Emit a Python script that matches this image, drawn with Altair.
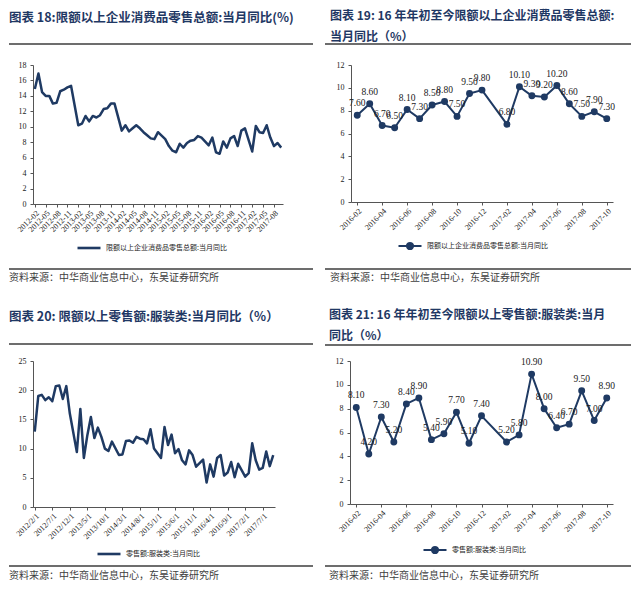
import altair as alt
import pandas as pd

NAVY = "#1f3a63"
TITLE_C = "#1f3864"
RULE_C = "#3c3c3c"
SERIF = "Liberation Serif"
CJK = "Noto Sans CJK SC"


def month_list(y0, m0, y1, m1):
    out = []
    y, m = y0, m0
    while (y, m) <= (y1, m1):
        out.append((y, m))
        m += 1
        if m > 12:
            m, y = 1, y + 1
    return out


# ---------------- data ----------------
# Chart 18: monthly 2012-02 .. 2017-10 (January not published -> None)
p18_cats = [f"{y}-{m:02d}" for y, m in month_list(2012, 2, 2017, 10)]
p18_vals = (
    [14.9, 16.9, 14.5, 14.0, 14.0, 13.0, 13.1, 14.6, 14.8, 15.1, 15.3]
    + [None, 10.2, 10.4, 11.4, 10.7, 11.4, 11.2, 11.5, 12.3, 12.4, 13.0, 13.0]
    + [None, 9.5, 10.2, 9.4, 9.8, 10.2, 9.8, 9.3, 8.9, 8.5, 8.4, 9.3]
    + [None, 8.4, 7.5, 6.9, 6.7, 7.8, 7.3, 7.9, 8.2, 8.3, 8.8, 8.6]
    + [None, 7.6, 8.6, 6.7, 6.5, 8.1, 7.3, 8.5, 8.8, 7.5, 9.5, 9.8]
    + [None, 6.8, 10.1, 9.3, 9.2, 10.2, 8.6, 7.5, 7.9, 7.3]
)
p18_ticks = p18_cats[0::3]
p18_name = "限额以上企业消费品零售总额:当月同比"

# Chart 19: 2016-02 .. 2017-10
p19_cats = [f"{y}-{m:02d}" for y, m in month_list(2016, 2, 2017, 10)]
p19_vals = [7.6, 8.6, 6.7, 6.5, 8.1, 7.3, 8.5, 8.8, 7.5, 9.5, 9.8,
            None, 6.8, 10.1, 9.3, 9.2, 10.2, 8.6, 7.5, 7.9, 7.3]
p19_ticks = p19_cats[0::2]
p19_name = "限额以上企业消费品零售总额:当月同比"

# Chart 20: monthly 2012/2/1 .. 2017/10/1
p20_cats = [f"{y}/{m}/1" for y, m in month_list(2012, 2, 2017, 10)]
p20_vals = (
    [12.9, 19.0, 19.2, 18.3, 18.8, 18.1, 20.7, 20.8, 18.5, 20.7, 16.0]
    + [None, 9.4, 16.8, 8.4, 12.3, 15.4, 11.8, 13.6, 12.0, 10.0, 9.6, 11.2]
    + [None, 8.9, 9.0, 11.3, 11.4, 11.0, 12.0, 11.7, 11.6, 10.9, 13.3, 10.0]
    + [None, 8.4, 13.7, 10.6, 12.4, 9.2, 9.9, 8.0, 7.3, 9.7, 8.9, 6.9]
    + [None, 8.1, 4.2, 7.3, 5.2, 8.4, 8.9, 5.4, 5.9, 7.7, 5.1, 7.4]
    + [None, 5.2, 5.8, 10.9, 8.0, 6.4, 6.7, 9.5, 7.0, 8.9]
)
p20_ticks = p20_cats[0::5]
p20_name = "零售额:服装类:当月同比"

# Chart 21: 2016-02 .. 2017-10
p21_cats = [f"{y}-{m:02d}" for y, m in month_list(2016, 2, 2017, 10)]
p21_vals = [8.1, 4.2, 7.3, 5.2, 8.4, 8.9, 5.4, 5.9, 7.7, 5.1, 7.4,
            None, 5.2, 5.8, 10.9, 8.0, 6.4, 6.7, 9.5, 7.0, 8.9]
p21_ticks = p21_cats[0::2]
p21_name = "零售额:服装类:当月同比"

titles = [
    "图表 18:限额以上企业消费品零售总额:当月同比(%)",
    "图表 19: 16 年年初至今限额以上企业消费品零售总额:\n当月同比（%）",
    "图表 20: 限额以上零售额:服装类:当月同比（%）",
    "图表 21: 16 年年初至今限额以上零售额:服装类:当月\n同比（%）",
]
source = "资料来源：中华商业信息中心，东吴证券研究所"

LINE_DOT = "M-1,0L1,0M-0.26,0A0.26,0.26 0 1,0 0.26,0A0.26,0.26 0 1,0 -0.26,0Z"


def panel(cats, vals, name, ticks, W, H, ymax, ystep, pad, dots,
          title, tfs, tx, ty, rule_l, rule_r, top_rule, bot_rule, src_y, src_x,
          leg_x, leg_y):
    df = pd.DataFrame({"month": cats, "value": vals, "series": name}).dropna()
    df["label"] = df["value"].map(lambda v: f"{v:.2f}")

    x = alt.X("month:O",
              scale=alt.Scale(type="point", domain=cats, padding=pad),
              axis=alt.Axis(values=ticks, labelAngle=-45, title=None,
                            labelPadding=2))
    y = alt.Y("value:Q",
              scale=alt.Scale(domain=[0, ymax], nice=False, zero=True),
              axis=alt.Axis(values=list(range(0, ymax + 1, ystep)),
                            title=None, labelPadding=4))
    leg = alt.Legend(orient="none", legendX=leg_x, legendY=leg_y, title=None,
                     labelFont=CJK, labelFontSize=7, labelColor="#222222",
                     labelLimit=400, symbolSize=529,
                     symbolType=LINE_DOT if dots else "stroke",
                     symbolStrokeWidth=2.2 if dots else 2.6,
                     symbolFillColor=NAVY, symbolStrokeColor=NAVY,
                     labelOffset=4, padding=0)
    color = alt.Color("series:N", scale=alt.Scale(range=[NAVY]), legend=leg)

    base = alt.Chart(df)
    layers = [base.mark_line(strokeWidth=2.0 if dots else 2.5,
                             strokeJoin="round").encode(x=x, y=y, color=color)]
    if dots:
        layers.append(base.mark_point(filled=True, size=48, opacity=1,
                                      color=NAVY).encode(x=x, y=y))
        layers.append(base.mark_text(dy=-12, font=SERIF, fontSize=9.5,
                                     color="#1a1a1a")
                      .encode(x=x, y=y, text="label:N"))

    one = pd.DataFrame({"t": [title]})
    layers.append(alt.Chart(one).mark_text(
        align="left", baseline="top", font=CJK, fontSize=tfs,
        fontWeight="bold", color=TITLE_C, lineBreak="\n", lineHeight=21
    ).encode(x=alt.value(tx), y=alt.value(ty), text="t:N"))

    # decorative separator rules (above the plot and above the source note)
    rules_df = pd.DataFrame({"which": ["top", "bottom"],
                             "ypix": [top_rule, bot_rule]})
    layers.append(alt.Chart(rules_df).mark_rule(
        color=RULE_C, strokeWidth=1.3
    ).encode(
        y=alt.Y("ypix:Q", scale=None),
        x=alt.value(rule_l), x2=alt.value(rule_r),
        detail="which:N",
    ))

    layers.append(alt.Chart(pd.DataFrame({"s": [source]})).mark_text(
        align="left", baseline="middle", font=CJK, fontSize=10,
        color="#404040"
    ).encode(x=alt.value(src_x), y=alt.value(src_y), text="s:N"))

    return alt.layer(*layers).properties(width=W, height=H)


c18 = panel(p18_cats, p18_vals, p18_name, p18_ticks, 250, 139, 18, 2, 0.5, False,
            titles[0], 12.5, -24, -53, -24, 280, -21, 204, 213, -24, 43, 170)
c19 = panel(p19_cats, p19_vals, p19_name, p19_ticks, 262, 137, 12, 2, 0.5, True,
            titles[1], 12, -21, -54, -26, 280, -21, 204, 213, -21, 46, 168)
c20 = panel(p20_cats, p20_vals, p20_name, p20_ticks, 242, 146, 25, 5, 0.5, False,
            titles[2], 12.5, -24, -50, -24, 280, -17, 205, 215, -24, 63, 180)
c21 = panel(p21_cats, p21_vals, p21_name, p21_ticks, 263, 143, 12, 2, 0.5, True,
            titles[3], 12, -21, -51, -25, 281, -16, 205, 215, -21, 72, 176)

row1 = alt.hconcat(c18, c19, spacing=10).resolve_scale(color="independent")
row2 = alt.hconcat(c20, c21, spacing=10).resolve_scale(color="independent")

chart = alt.vconcat(row1, row2, spacing=26).resolve_scale(
    color="independent"
).properties(
    padding={"top": 2, "left": 0, "right": 0, "bottom": 0},
    background="white",
).configure_view(
    stroke=None
).configure_axis(
    domainColor="#555555", tickColor="#555555", domainWidth=1,
    labelFont=SERIF, labelFontSize=8, labelColor="#1a1a1a",
    grid=False, tickSize=3,
)

chart.save("out.html", embed_options={"renderer": "svg", "actions": False})
